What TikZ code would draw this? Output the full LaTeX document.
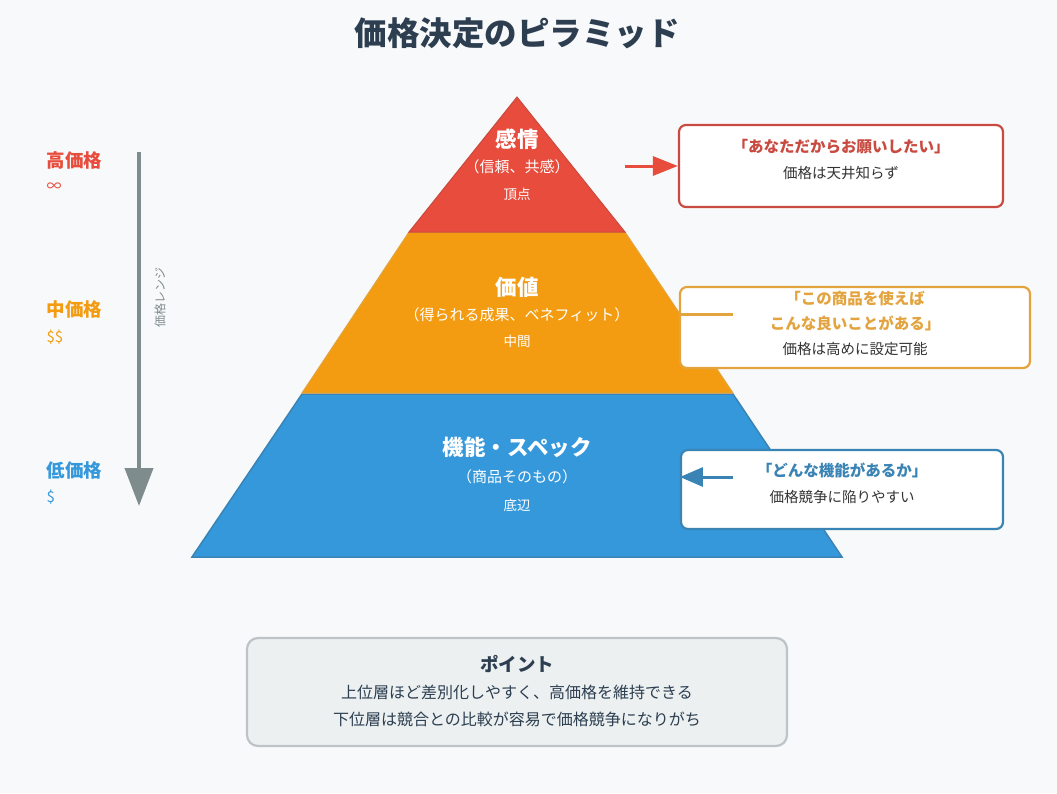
\documentclass[tikz,border=0pt]{standalone}
\usepackage{fontspec}
\setmainfont{Noto Sans CJK JP}
\usepackage{xcolor}
\usetikzlibrary{arrows.meta}
\definecolor{bgcol}{HTML}{F8F9FA}
\definecolor{titlecol}{HTML}{2C3E50}
\definecolor{textcol}{HTML}{333333}
\definecolor{redcol}{HTML}{E74C3C}
\definecolor{redline}{HTML}{C94A40}
\definecolor{orangecol}{HTML}{F39C12}
\definecolor{orangeline}{HTML}{E3A43F}
\definecolor{bluecol}{HTML}{3498DB}
\definecolor{blueline}{HTML}{3A84B5}
\definecolor{rangecol}{HTML}{7F8C8D}
\definecolor{pointfill}{HTML}{ECF0F1}
\definecolor{pointline}{HTML}{BDC3C7}
\tikzset{%
  tipR/.tip={Triangle[length=25pt,width=19pt]},
  tipB/.tip={Triangle[length=23pt,width=19pt]},
  tipG/.tip={Triangle[length=38pt,width=28pt]},
  layerhead/.style={text=white, font=\fontsize{21.5}{25}\selectfont\bfseries},
  layersub/.style={text=white, font=\fontsize{15}{18}\selectfont},
  layerpos/.style={text=white, font=\fontsize{13.5}{16}\selectfont},
  pricehead/.style={anchor=west, font=\fontsize{18.5}{22}\selectfont\bfseries},
  pricesign/.style={anchor=west, font=\fontsize{15}{18}\selectfont},
  callbox/.style={draw, fill=white, line width=2.2pt, rounded corners=7pt},
  callhead/.style={font=\fontsize{15.5}{19}\selectfont\bfseries},
  callbody/.style={text=textcol, font=\fontsize{14.5}{17}\selectfont},
}

\begin{document}
\begin{tikzpicture}[x=1pt,y=-1pt]
\useasboundingbox (0,0) rectangle (1057,793);
\fill[bgcol] (0,0) rectangle (1057,793);
\node[text=titlecol , font=\fontsize{32.5}{38}\selectfont\bfseries] (title) at (517,33) {価格決定のピラミッド};
% pyramid
\filldraw[color=blueline , fill=bluecol , line width=1.5pt] (302,394)--(733,394)--(842,557)--(192,557)--cycle;
\filldraw[color=orangeline , fill=orangecol , line width=1pt] (409,232)--(625,232)--(733,393)--(302,393)--cycle;
\filldraw[color=redline , fill=redcol , line width=1pt] (517,97)--(625,232)--(409,232)--cycle;
\node[layerhead] (emohead) at (517,139) {感情};
\node[layersub] (emosub) at (517,167) {（信頼、共感）};
\node[layerpos] (emopos) at (517,194) {頂点};
\node[layerhead] (valhead) at (517,287) {価値};
\node[layersub] (valsub) at (517,315) {（得られる成果、ベネフィット）};
\node[layerpos] (valpos) at (517,341) {中間};
\node[layerhead] (funchead) at (517,447) {機能・スペック};
\node[layersub] (funcsub) at (517,477) {（商品そのもの）};
\node[layerpos] (funcpos) at (517,505) {底辺};
% price range
\node[pricehead , text=redcol] (highprice) at (43,160) {高価格};
\node[pricesign , text=redcol] (highsign) at (43,187) {∞};
\node[pricehead , text=orangecol] (midprice) at (43,309) {中価格};
\node[pricesign , text=orangecol] (midsign) at (43,337) {\$\$};
\node[pricehead , text=bluecol] (lowprice) at (43,470) {低価格};
\node[pricesign , text=bluecol] (lowsign) at (43,497) {\$};
\coordinate (rangetop) at (139,152);
\coordinate (rangebot) at (139,506);
\draw[rangecol , line width=4pt , -tipG] (rangetop) -- (rangebot);
\node[rotate=90 , text=rangecol , font=\fontsize{12}{14}\selectfont] (rangelabel) at (160,297) {価格レンジ};
% callouts
\node[callbox , draw=redline , minimum width=324pt , minimum height=82pt] (emobox) at (841,166) {};
\node[callhead , text=redline] (emoquote) at (841,147) {「あなただからお願いしたい」};
\node[callbody] (emonote) at (841,173) {価格は天井知らず};
\coordinate (emofrom) at (625,166);
\draw[redcol , line width=3pt , -tipR] (emofrom) -- (emobox.west);
\node[callbox , draw=orangeline , minimum width=350pt , minimum height=81pt] (valbox) at (855,327.5) {};
\node[callhead , text=orangeline] (valquote1) at (855,299) {「この商品を使えば};
\node[callhead , text=orangeline] (valquote2) at (855,323) {こんな良いことがある」};
\node[callbody] (valnote) at (855,349) {価格は高めに設定可能};
\coordinate (valfrom) at (733,314);
\draw[orangeline , line width=3pt] (valfrom) -- (valbox.west |- valfrom);
\node[callbox , draw=blueline , minimum width=322pt , minimum height=79pt] (funcbox) at (842,489.5) {};
\node[callhead , text=blueline] (funcquote) at (842,470) {「どんな機能があるか」};
\node[callbody] (funcnote) at (842,497) {価格競争に陥りやすい};
\coordinate (funcfrom) at (733,477);
\draw[blueline , line width=3pt , -tipB] (funcfrom) -- (funcbox.west |- funcfrom);
% point box
\node[draw=pointline , fill=pointfill , line width=2.2pt , rounded corners=11pt , minimum width=540pt , minimum height=108pt] (pointbox) at (517,692) {};
\node[text=titlecol , font=\fontsize{18.5}{22}\selectfont\bfseries] (pointhead) at (517,664) {ポイント};
\node[text=titlecol , font=\fontsize{16}{19}\selectfont] (pointline1) at (517,692) {上位層ほど差別化しやすく、高価格を維持できる};
\node[text=titlecol , font=\fontsize{16}{19}\selectfont] (pointline2) at (517,719) {下位層は競合との比較が容易で価格競争になりがち};
\end{tikzpicture}
\end{document}
